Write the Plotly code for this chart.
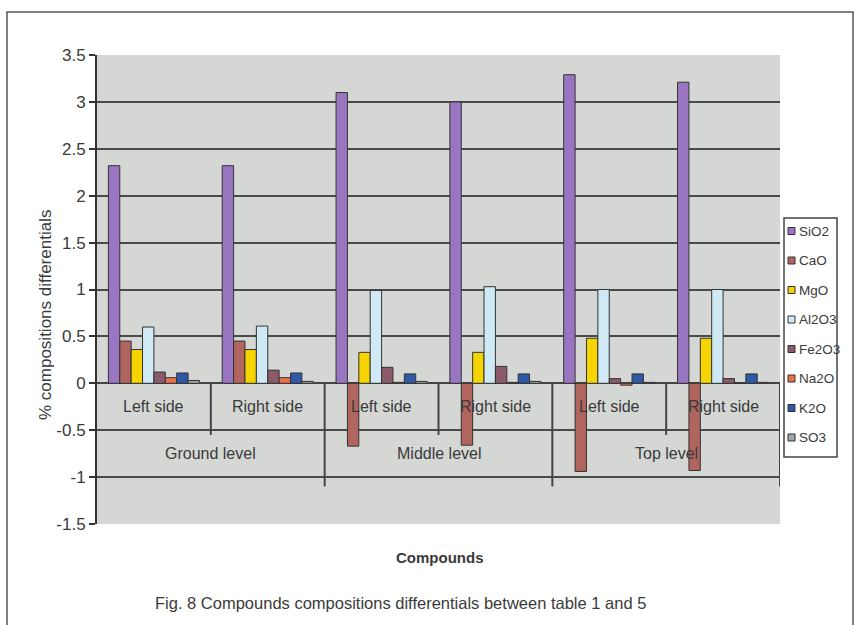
import plotly.graph_objects as go

# Sampling positions (two sides at three levels)
levels = ["Ground level", "Middle level", "Top level"]
sides = ["Left side", "Right side"]
positions = [f"{lv} - {sd}" for lv in levels for sd in sides]

# Compound differentials (%) per position
compounds = ["SiO2", "CaO", "MgO", "Al2O3", "Fe2O3", "Na2O", "K2O", "SO3"]
sio2 = [2.32, 2.32, 3.10, 3.00, 3.29, 3.21]
cao = [0.45, 0.45, -0.67, -0.66, -0.94, -0.93]
mgo = [0.36, 0.36, 0.33, 0.33, 0.48, 0.48]
al2o3 = [0.60, 0.61, 0.99, 1.03, 1.00, 1.00]
fe2o3 = [0.12, 0.14, 0.17, 0.18, 0.05, 0.05]
na2o = [0.06, 0.06, 0.01, 0.01, -0.02, 0.00]
k2o = [0.11, 0.11, 0.10, 0.10, 0.10, 0.10]
so3 = [0.03, 0.02, 0.02, 0.02, 0.01, 0.01]
series = [sio2, cao, mgo, al2o3, fe2o3, na2o, k2o, so3]

colors = ["#9a76c2", "#b0665f", "#f6d400", "#cfe9f5",
          "#8a5a68", "#e8704a", "#2f58a6", "#9ea6ae"]

y_ticks = [3.5, 3, 2.5, 2, 1.5, 1, 0.5, 0, -0.5, -1, -1.5]
y_tick_text = ["3.5", "3", "2.5", "2", "1.5", "1", "0.5", "0", "-0.5", "-1", "-1.5"]

FONT = "Liberation Sans, Arial, sans-serif"
TEXT = "#3a3a3a"
W, H = 860, 625
L, R, T, B = 97, 80, 55, 101
PW, PH = W - L - R, H - T - B


def px_x(px):
    return (px - L) / PW


def px_y(py):
    return (H - B - py) / PH


fig = go.Figure()
for name, vals, col in zip(compounds, series, colors):
    fig.add_trace(go.Bar(
        name=name, x=positions, y=vals,
        marker=dict(color=col, line=dict(color="#333333", width=1)),
        showlegend=False,
    ))

shapes = []
annotations = []

# Multi-level category labels sitting on the zero line
for i, pos in enumerate(positions):
    annotations.append(dict(x=pos, y=-0.25, xref="x", yref="y",
                            xanchor="center", yanchor="middle",
                            text=sides[i % 2], showarrow=False,
                            font=dict(family=FONT, size=16, color=TEXT)))
for k, lv in enumerate(levels):
    annotations.append(dict(x=2 * k + 0.5, y=-0.75, xref="x", yref="y",
                            xanchor="center", yanchor="middle",
                            text=lv, showarrow=False,
                            font=dict(family=FONT, size=16, color=TEXT)))
for k in range(len(positions)):
    xpos = k + 0.5
    low = -0.55 if k % 2 == 0 else -1.1
    shapes.append(dict(type="line", xref="x", yref="y", x0=xpos, x1=xpos,
                       y0=0, y1=low, line=dict(color="#444444", width=2)))

# Legend box
lx0, lx1, ly0, ly1 = 784, 837, 218, 457
shapes.append(dict(type="rect", xref="paper", yref="paper",
                   x0=px_x(lx0), x1=px_x(lx1), y0=px_y(ly1), y1=px_y(ly0),
                   fillcolor="white", line=dict(color="#444444", width=1.5),
                   layer="above"))
for i, (name, col) in enumerate(zip(compounds, colors)):
    cy = 231 + 29.5 * i
    shapes.append(dict(type="rect", xref="paper", yref="paper",
                       x0=px_x(788), x1=px_x(795), y0=px_y(cy + 3.5), y1=px_y(cy - 3.5),
                       fillcolor=col, line=dict(color="#333333", width=1),
                       layer="above"))
    annotations.append(dict(x=px_x(797), y=px_y(cy), xref="paper", yref="paper",
                            xanchor="left", yanchor="middle", text=name,
                            showarrow=False,
                            font=dict(family=FONT, size=13.5, color=TEXT)))

# Outer frame
shapes.append(dict(type="rect", xref="paper", yref="paper",
                   x0=px_x(7), x1=px_x(853), y0=px_y(640), y1=px_y(12),
                   line=dict(color="#555555", width=1.5), layer="below"))

# Titles
annotations.append(dict(x=px_x(45), y=px_y(315), xref="paper", yref="paper",
                        xanchor="center", yanchor="middle",
                        text="% compositions differentials", textangle=-90,
                        showarrow=False,
                        font=dict(family=FONT, size=17, color=TEXT)))
annotations.append(dict(x=px_x(440), y=px_y(557), xref="paper", yref="paper",
                        xanchor="center", yanchor="middle",
                        text="<b>Compounds</b>", showarrow=False,
                        font=dict(family=FONT, size=15, color=TEXT)))
annotations.append(dict(x=px_x(400), y=px_y(603), xref="paper", yref="paper",
                        xanchor="center", yanchor="middle",
                        text="Fig. 8 Compounds compositions differentials between table 1 and 5",
                        showarrow=False,
                        font=dict(family=FONT, size=16.5, color=TEXT)))

fig.update_layout(
    width=W, height=H,
    margin=dict(l=L, r=R, t=T, b=B),
    paper_bgcolor="white",
    plot_bgcolor="#d5d7d5",
    barmode="group", bargap=0.2, bargroupgap=0,
    shapes=shapes, annotations=annotations,
    font=dict(family=FONT, color=TEXT),
)
fig.update_xaxes(range=[-0.5, 5.5], showticklabels=False, showgrid=False,
                 zeroline=False, ticks="", showline=False)
fig.update_yaxes(range=[-1.5, 3.5], tickvals=y_ticks, ticktext=y_tick_text,
                 showgrid=True, gridcolor="#4a4a4a", gridwidth=2,
                 zeroline=True, zerolinecolor="#444444", zerolinewidth=2,
                 showline=True, linecolor="#333333", linewidth=2,
                 ticks="outside", ticklen=6, tickcolor="#333333", tickwidth=1.5,
                 tickfont=dict(family=FONT, size=17, color=TEXT))

fig.write_html("out.html")
